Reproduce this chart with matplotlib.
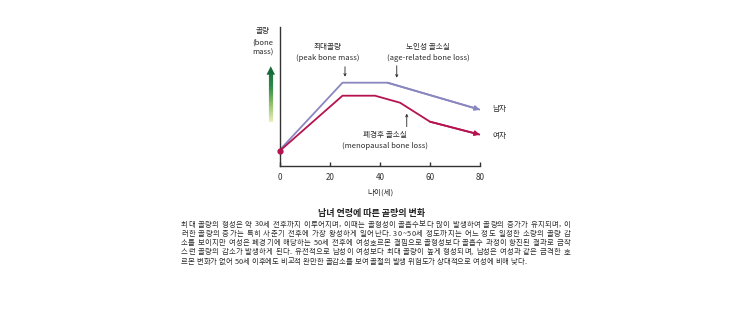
import numpy as np
import matplotlib
matplotlib.use('Agg')
import matplotlib.pyplot as plt
from matplotlib.collections import LineCollection
from matplotlib.colors import LinearSegmentedColormap

plt.rcParams['font.family'] = ['Noto Sans CJK KR', 'DejaVu Sans']

# data (y in arbitrary bone-mass units)
male_age = [0, 25, 43, 80]
male_mass = [16, 83, 83, 56]
female_age = [0, 25, 38, 48, 60, 80]
female_mass = [15, 70, 70, 63, 44, 31]
xticks = [0, 20, 40, 60, 80]

title = '남녀 연령에 따른 골량의 변화'
body = ['최대 골량의 형성은 약 30세 전후까지 이루어지며, 이때는 골형성이 골흡수보다 많이 발생하여 골량의 증가가 유지되며, 이',
        '러한 골량의 증가는 특히 사춘기 전후에 가장 왕성하게 일어난다. 30~50세 정도까지는 어느 정도 일정한 소량의 골량 감',
        '소를 보이지만 여성은 폐경기에 해당하는 50세 전후에 여성호르몬 결핍으로 골형성보다 골흡수 과정이 항진된 결과로 급작',
        '스런 골량의 감소가 발생하게 된다. 유전적으로 남성이 여성보다 최대 골량이 높게 형성되며, 남성은 여성과 같은 급격한 호',
        '르몬 변화가 없어 50세 이후에도 비교적 완만한 골감소를 보여 골절의 발생 위험도가 상대적으로 여성에 비해 낮다.']

male_c = '#8a86c0'
female_c = '#b5134f'
txt_c = '#2b2b2b'

fig = plt.figure(figsize=(7.43, 3.14), dpi=100)
ax = fig.add_axes([280/743, 1-165.7/314, 200/743, 138.7/314])
ax.set_xlim(0, 80)
ax.set_ylim(0, 138.7)

ax.plot(male_age, male_mass, color=male_c, lw=1.3, solid_capstyle='butt')
ax.plot(female_age, female_mass, color=female_c, lw=1.3, solid_capstyle='butt')
ax.annotate('', xy=(male_age[-1], male_mass[-1]), xytext=(male_age[-2], male_mass[-2]),
            arrowprops=dict(arrowstyle='-|>', color=male_c, lw=1.3, mutation_scale=7,
                            shrinkA=0, shrinkB=0), annotation_clip=False)
ax.annotate('', xy=(female_age[-1], female_mass[-1]), xytext=(female_age[-2], female_mass[-2]),
            arrowprops=dict(arrowstyle='-|>', color=female_c, lw=1.3, mutation_scale=7,
                            shrinkA=0, shrinkB=0), annotation_clip=False)
ax.plot([female_age[0]], [female_mass[0]], 'o', color=female_c, ms=3.5, clip_on=False, zorder=5)

for s in ['top', 'right']:
    ax.spines[s].set_visible(False)
for s in ['left', 'bottom']:
    ax.spines[s].set_color('#333333')
    ax.spines[s].set_linewidth(1.0)
ax.set_yticks([])
ax.set_xticks(xticks)
ax.tick_params(axis='x', direction='in', length=3, width=1, labelsize=5.8,
               colors='#333333', pad=5)
ax.set_xlabel('나이(세)', fontsize=5.5, color=txt_c, labelpad=5)

kw = dict(fontsize=5.5, color=txt_c, ha='center', va='center')
ax.text(19.2, 119, '최대골량', **kw)
ax.text(19.2, 107.7, '(peak bone mass)', **kw)
ax.text(59.2, 119, '노인성 골소실', **kw)
ax.text(59.2, 107.7, '(age-related bone loss)', **kw)
ax.text(42, 30.7, '폐경후 골소실', **kw)
ax.text(42, 19.7, '(menopausal bone loss)', **kw)
ax.text(85, male_mass[-1] + 1, '남자', fontsize=5.5, color=txt_c, ha='left', va='center', clip_on=False)
ax.text(85, female_mass[-1] - 1, '여자', fontsize=5.5, color=txt_c, ha='left', va='center', clip_on=False)
ax.text(-6.8, 134.7, '골량', **kw)
ax.text(-6.8, 122.7, '(bone', **kw)
ax.text(-6.8, 112.7, 'mass)', **kw)

ap = dict(arrowstyle='->', color='#222222', lw=0.6, mutation_scale=4, shrinkA=0, shrinkB=0)
ax.annotate('', xy=(26, 89), xytext=(26, 99), arrowprops=ap)
ax.annotate('', xy=(46.7, 88), xytext=(46.7, 100), arrowprops=ap)
ax.annotate('', xy=(50.7, 52), xytext=(50.7, 39), arrowprops=ap)

# green gradient arrow next to y label
cmap = LinearSegmentedColormap.from_list('g', ['#e8efb8', '#8fbf6a', '#2e8a4a', '#176b3a'])
ys = np.linspace(43.7, 92, 40)
segs = [[(-3.7, ys[i]), (-3.7, ys[i+1])] for i in range(len(ys)-1)]
lc = LineCollection(segs, colors=cmap(np.linspace(0, 0.9, len(segs))), linewidths=3, clip_on=False)
ax.add_collection(lc)
ax.fill([-5.4, -2.0, -3.7], [91, 91, 99.5], color='#176b3a', clip_on=False, lw=0)

fig.text(372/743, 1-213.3/314, title, fontsize=6.5, fontweight='bold', color='#222222',
         ha='center', va='center')

# body paragraph, justified by letter spacing between x=181 and x=570 px
fs = 5.3
renderer = fig.canvas.get_renderer()
x0 = 181
sp = 0.3 * fs * 100 / 72
for i, line in enumerate(body):
    y = 1-(224.5+9.3*i)/314
    x1 = 570 if i < len(body) - 1 else 526
    objs, widths = [], []
    for ch in line:
        if ch == ' ':
            objs.append(None)
            widths.append(sp)
        else:
            o = fig.text(0, y, ch, fontsize=fs, color=txt_c, ha='left', va='center')
            objs.append(o)
            widths.append(o.get_window_extent(renderer).width)
    extra = (x1 - x0 - sum(widths)) / (len(line) - 1)
    x = x0
    for o, w in zip(objs, widths):
        if o is not None:
            o.set_x(x/743)
        x += w + extra

fig.savefig('out.png', dpi=100, facecolor='white')
